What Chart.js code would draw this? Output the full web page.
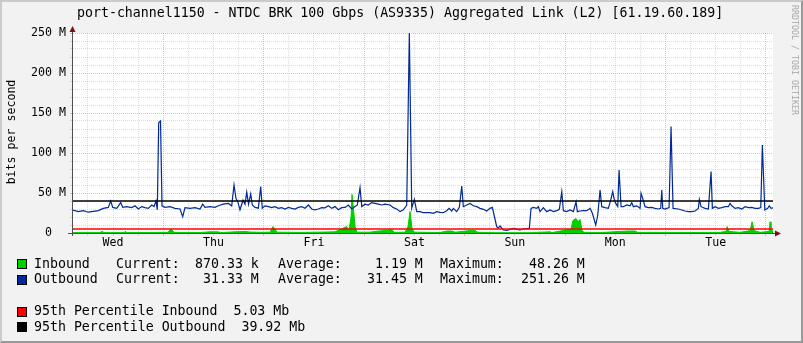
<!DOCTYPE html>
<html lang="en">
<head>
<meta charset="UTF-8">
<title>port-channel1150 traffic</title>
<script src="https://cdn.jsdelivr.net/npm/chart.js@4.4.1/dist/chart.umd.min.js"></script>
<style>
  body { margin: 0; background: #fff; }
  .frame {
    position: absolute; left: 0; top: 0; width: 803px; height: 343px;
    box-sizing: border-box; background: #F2F2F2;
    border: 2px solid; border-color: #CBCBCB #999 #999 #CBCBCB;
  }
  #graph { position: absolute; left: 0; top: 0; }
  .txt {
    position: absolute; font-family: 'DejaVu Sans Mono', monospace;
    color: #000; white-space: pre; font-size: 13.25px; line-height: 16px;
  }
  .box { position: absolute; left: 17px; width: 8px; height: 8px; border: 1px solid #000; }
  .ylab {
    position: absolute; left: -49.5px; top: 124.5px; width: 120px; height: 14px;
    line-height: 14px; text-align: center; font-family: 'DejaVu Sans Mono', monospace;
    font-size: 11.6px; transform: rotate(-90deg);
  }
  .mark {
    position: absolute; left: 739.5px; top: 55px; width: 110px; height: 10px;
    line-height: 10px; text-align: center; font-family: 'DejaVu Sans Mono', monospace;
    font-size: 8.3px; color: #a8a8a8; transform: rotate(90deg);
  }
</style>
</head>
<body>
<div class="frame"></div>
<canvas id="graph" width="803" height="343"></canvas>

<div class="txt" style="left:77px; top:5px;">port-channel1150 - NTDC BRK 100 Gbps (AS9335) Aggregated Link (L2) [61.19.60.189]</div>
<div class="ylab">bits per second</div>
<div class="mark">RRDTOOL / TOBI OETIKER</div>

<div class="box" style="top:259px; background:#00CF00;"></div>
<div class="txt" style="left:34px; top:256px;">Inbound</div>
<div class="txt" style="left:116px; top:256px;">Current:</div>
<div class="txt" style="left:195px; top:256px;">870.33 k</div>
<div class="txt" style="left:278px; top:256px;">Average:</div>
<div class="txt" style="left:359px; top:256px;">  1.19 M</div>
<div class="txt" style="left:440px; top:256px;">Maximum:</div>
<div class="txt" style="left:521px; top:256px;"> 48.26 M</div>

<div class="box" style="top:274.5px; background:#002A97;"></div>
<div class="txt" style="left:34px; top:271px;">Outbound</div>
<div class="txt" style="left:116px; top:271px;">Current:</div>
<div class="txt" style="left:195px; top:271px;"> 31.33 M</div>
<div class="txt" style="left:278px; top:271px;">Average:</div>
<div class="txt" style="left:359px; top:271px;"> 31.45 M</div>
<div class="txt" style="left:440px; top:271px;">Maximum:</div>
<div class="txt" style="left:521px; top:271px;">251.26 M</div>

<div class="box" style="top:306.5px; background:#FF0000;"></div>
<div class="txt" style="left:34px; top:303px;">95th Percentile Inbound  5.03 Mb</div>
<div class="box" style="top:322px; background:#000000;"></div>
<div class="txt" style="left:34px; top:319px;">95th Percentile Outbound  39.92 Mb</div>

<script>
// time axis in hours since Wednesday 00:00
const dayLabels = ['Wed', 'Thu', 'Fri', 'Sat', 'Sun', 'Mon', 'Tue'];
const xStart = 2.43;
const xEnd = 169.68;

// outbound, Mbit/s
const outHours = [
  2.43,3.70,4.89,6.09,7.28,8.48,9.67,10.86,11.44,11.92,
  12.87,13.83,14.31,15.26,16.46,17.25,18.03,18.85,19.63,20.42,
  21.24,21.79,22.26,22.57,22.91,23.34,23.70,24.41,25.61,26.80,
  28.00,28.64,29.19,30.39,31.58,32.78,33.42,33.97,35.17,36.36,
  37.15,38.34,39.54,40.35,40.90,41.38,41.86,42.33,43.05,43.53,
  43.94,44.37,44.89,45.27,45.92,46.71,47.28,47.66,48.31,49.10,
  49.91,50.70,51.49,52.30,53.09,53.88,54.69,55.48,56.27,57.08,
  57.87,58.66,59.47,60.26,61.05,61.86,62.65,63.44,64.25,65.04,
  65.83,66.64,67.43,68.21,69.03,69.82,70.36,71.01,71.42,72.21,
  72.99,73.81,74.59,75.38,76.20,76.98,78.18,78.97,79.78,80.57,
  81.36,82.17,82.79,83.36,83.99,84.56,85.35,86.13,86.95,87.74,
  88.52,89.34,90.13,90.91,91.73,92.28,92.92,93.30,94.11,94.74,
  95.31,95.69,96.50,97.29,98.08,98.89,99.68,100.47,101.28,102.07,
  102.62,103.03,103.67,104.06,104.46,105.25,106.06,106.85,107.64,108.45,
  109.24,110.03,110.84,111.46,111.87,112.42,113.23,113.61,114.02,114.81,
  115.62,116.41,117.20,118.01,118.63,119.21,119.59,120.40,121.19,121.98,
  122.62,122.93,123.58,124.37,125.18,125.97,126.52,127.33,127.81,128.36,
  128.76,129.55,130.34,130.99,131.39,131.70,132.11,132.59,132.90,133.38,
  133.93,134.74,135.53,135.93,136.32,137.13,137.92,138.15,138.56,139.11,
  139.90,140.71,141.50,142.29,142.86,143.10,143.34,143.89,144.85,145.32,
  145.80,147.07,147.88,148.67,149.46,150.27,151.06,151.84,152.08,152.49,
  153.45,154.24,154.88,155.19,155.84,156.63,157.44,158.23,159.02,159.42,
  159.83,160.62,161.40,162.22,163.01,163.79,164.61,165.40,166.19,166.76,
  167.14,167.72,168.41,168.79,169.20,169.68
];
const outMbps = [
  28.5,26.7,28,26,27,28,30.8,32,40,32,
  30.8,38,32,33,31.7,34,30,33,31.7,30.8,
  35,33,40,29,138,140,34,32,33,30.8,
  30,20.4,31.7,30.8,31.7,30,36,32,33,32,
  34,36,37,34,60,43,38,29,41,36,
  51,36,48.75,35,32,31,58,31,34,33,
  31.7,33,30.8,31.7,30,32,30.8,30,32,33,
  31,35,30,29,30,31.7,31.5,34,30.8,33,
  29,31.7,32,35,30,33,35,56.7,33,36,
  35,38,37,36,35,36,35,31.7,30,26.7,
  29,35,251.26,31,42,26.7,26.7,25.4,25.4,25.4,
  24.6,26.7,25.8,25.4,27.9,30.8,27.5,30.8,26.7,32,
  58.75,32.9,35,37,34,32.9,30.8,29.6,27.5,30.8,
  32,22.5,8,6,8.75,3.75,3.3,4.6,5.8,4.6,
  3.75,5,5.4,5.8,30.8,32,30.8,32.9,26.7,31.7,
  26.7,28.75,26.7,27.9,29.6,51.7,27.9,26.7,28.75,26.7,
  39,26.7,27.5,27.9,27.9,30.8,24.6,10,22.5,53.75,
  32.9,31.7,30.8,43,51.7,43,37,33,78.75,33,
  32.9,35,34,38,32.9,34,30.8,49.6,43,32.9,
  31.7,32,30.8,30,30.8,53.75,30.8,30,31.7,133,
  30.8,30,28.75,27.5,26.7,26.7,27.5,30.8,42,32.9,
  30.8,30,76.7,30.8,32.9,30.8,31.7,32.9,32.9,37,
  34,30.8,31.7,30,32.9,31.7,32,30.8,30.8,31.7,
  110,28.75,30.8,34,30.8,31.33
];

// inbound, Mbit/s
const inHours = [
  2.43,8.88,9.36,9.84,14.62,14.86,15.33,25.13,25.61,26.09,
  26.56,32.78,35.17,36.84,38.03,41.14,43.53,44.72,47.59,49.50,
  50.21,50.69,51.17,56.66,62.65,65.04,67.83,68.38,68.86,69.10,
  69.46,69.82,70.30,73.41,74.59,78.66,79.13,81.76,82.48,82.95,
  83.43,83.91,90.13,91.80,92.99,93.71,97.29,98.49,99.21,103.27,
  111.63,116.41,116.89,121.43,121.91,122.62,123.10,123.58,124.06,124.54,
  128.36,135.05,136.72,137.44,140.31,149.87,157.04,158.47,158.71,159.18,
  161.81,164.20,164.68,165.16,166.59,168.75,168.99,169.20,169.68
];
const inMbps = [
  0.5,0.5,2,0.5,0.5,2,0.5,0.8,4,4,
  0.8,0.6,1.5,1.5,0.6,1.5,1.8,1.2,0.8,1,
  8,5,1,0.7,1.2,1.5,8,3,20,48.26,
  30,8,1,1,2,4,0.8,1,8,27,
  6,1,0.6,2.5,2.5,1,3,3,0.8,0.4,
  0.4,1.5,0.5,5,16,18,14,17,3,0.8,
  0.5,2.5,2.5,0.6,0.8,0.6,0.8,2,8,2,
  0.8,3,14,3,0.8,2,14,6,0.87
];

const pct95In = 5.03;
const pct95Out = 39.92;

const monoFont = { family: "'DejaVu Sans Mono', monospace", size: 11.6 };
const minorGrid = 'rgba(128,128,128,0.28)';
const majorGrid = 'rgba(240,80,80,0.42)';
const axisColor = '#505050';
const arrowColor = '#7F0F0F';

const toPoints = (xs, ys) => xs.map((x, i) => ({ x: x, y: ys[i] }));

const plotBack = {
  id: 'plotBack',
  beforeDraw(chart) {
    const a = chart.chartArea;
    chart.ctx.save();
    chart.ctx.fillStyle = '#ffffff';
    chart.ctx.fillRect(a.left, a.top, a.right - a.left, a.bottom - a.top);
    chart.ctx.restore();
  }
};

const axisArrows = {
  id: 'axisArrows',
  afterDraw(chart) {
    const a = chart.chartArea;
    const ctx = chart.ctx;
    const xa = a.left - 0.5;
    const ya = a.bottom + 0.5;
    ctx.save();
    ctx.strokeStyle = axisColor;
    ctx.lineWidth = 1;
    ctx.beginPath();
    ctx.moveTo(xa, a.bottom + 3);
    ctx.lineTo(xa, a.top - 3);
    ctx.moveTo(a.left - 5, ya);
    ctx.lineTo(a.right + 3, ya);
    ctx.stroke();
    ctx.fillStyle = arrowColor;
    ctx.beginPath();
    ctx.moveTo(xa - 3, a.top - 1);
    ctx.lineTo(xa + 3, a.top - 1);
    ctx.lineTo(xa, a.top - 7);
    ctx.closePath();
    ctx.fill();
    ctx.beginPath();
    ctx.moveTo(a.right + 2, ya - 3);
    ctx.lineTo(a.right + 2, ya + 3);
    ctx.lineTo(a.right + 8, ya);
    ctx.closePath();
    ctx.fill();
    ctx.restore();
  }
};

new Chart(document.getElementById('graph'), {
  type: 'line',
  data: {
    datasets: [
      {
        label: 'Inbound',
        data: toPoints(inHours, inMbps),
        borderColor: '#00CF00',
        backgroundColor: '#00CF00',
        borderWidth: 1,
        fill: 'origin',
        pointRadius: 0,
        order: 4
      },
      {
        label: 'Outbound',
        data: toPoints(outHours, outMbps),
        borderColor: '#002A97',
        borderWidth: 1.2,
        fill: false,
        pointRadius: 0,
        order: 3
      },
      {
        label: '95th Percentile Inbound',
        data: toPoints([xStart, xEnd], [pct95In, pct95In]),
        borderColor: '#FF0000',
        borderWidth: 1.4,
        fill: false,
        pointRadius: 0,
        order: 2
      },
      {
        label: '95th Percentile Outbound',
        data: toPoints([xStart, xEnd], [pct95Out, pct95Out]),
        borderColor: '#000000',
        borderWidth: 1.4,
        fill: false,
        pointRadius: 0,
        order: 1
      }
    ]
  },
  options: {
    responsive: false,
    animation: false,
    devicePixelRatio: 1,
    layout: { padding: { top: 33, right: 30, left: 0, bottom: 0 } },
    plugins: { legend: { display: false }, tooltip: { enabled: false } },
    elements: { line: { tension: 0 } },
    scales: {
      x: {
        type: 'linear',
        min: xStart,
        max: xEnd,
        afterBuildTicks: s => {
          s.ticks = [];
          for (let h = 6; h <= 168; h += 6) s.ticks.push({ value: h });
        },
        afterFit: s => { s.height = 110; },
        ticks: {
          autoSkip: false,
          maxRotation: 0,
          padding: 0,
          color: '#000',
          font: monoFont,
          callback: v => (v % 24 === 12 ? dayLabels[(v - 12) / 24] : '')
        },
        grid: {
          color: c => (c.tick && c.tick.value % 24 === 0 ? majorGrid : minorGrid),
          tickColor: c => (c.tick && c.tick.value % 24 === 0 ? majorGrid : minorGrid),
          tickLength: 3
        },
        border: { display: false, dash: [1, 1] }
      },
      y: {
        type: 'linear',
        min: 0,
        max: 250,
        afterFit: s => { s.width = 73; },
        ticks: {
          stepSize: 10,
          autoSkip: false,
          padding: 4,
          color: '#000',
          font: monoFont,
          callback: v => (v % 50 === 0 ? (v === 0 ? '0  ' : v + ' M') : '')
        },
        grid: {
          color: c => (c.tick && c.tick.value % 50 === 0 ? majorGrid : minorGrid),
          tickColor: c => (c.tick && c.tick.value % 50 === 0 ? majorGrid : minorGrid),
          tickLength: 3
        },
        border: { display: false, dash: [1, 1] }
      }
    }
  },
  plugins: [plotBack, axisArrows]
});
</script>
</body>
</html>
